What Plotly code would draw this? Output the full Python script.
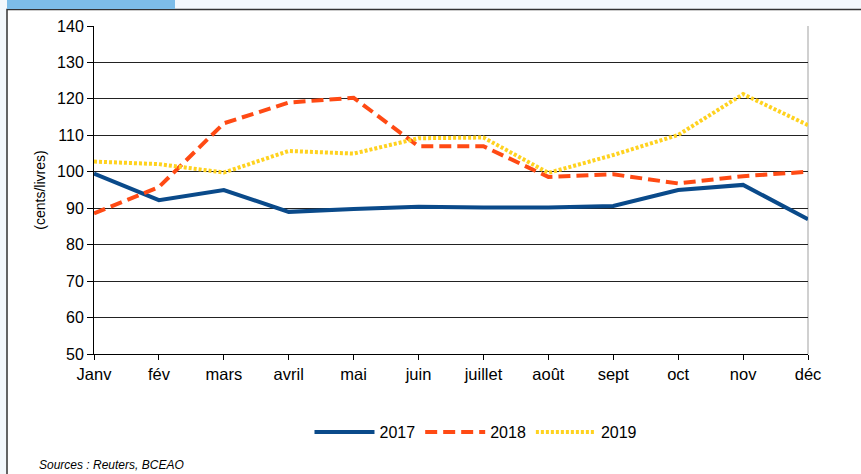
import plotly.graph_objects as go

months = ["Janv", "fév", "mars", "avril", "mai", "juin", "juillet", "août", "sept", "oct", "nov", "déc"]
y2017 = [99.5, 92.2, 95.0, 89.0, 89.8, 90.4, 90.2, 90.2, 90.6, 95.0, 96.4, 87.0]
y2018 = [88.6, 95.8, 113.3, 119.0, 120.3, 107.0, 107.0, 98.6, 99.3, 96.8, 98.8, 100.0]
y2019 = [102.8, 102.1, 99.8, 105.7, 105.0, 109.2, 109.4, 99.7, 104.6, 110.1, 121.3, 112.8]
yticks = [50, 60, 70, 80, 90, 100, 110, 120, 130, 140]

xs = list(range(len(months)))
fig = go.Figure()
fig.add_trace(go.Scatter(x=xs, y=y2017, name="2017", mode="lines",
                         line=dict(color="#0a4a8a", width=4, dash="solid")))
fig.add_trace(go.Scatter(x=xs, y=y2018, name="2018", mode="lines",
                         line=dict(color="#ff4a14", width=4, dash="12px,6px")))
fig.add_trace(go.Scatter(x=xs, y=y2019, name="2019", mode="lines",
                         line=dict(color="#ffd21f", width=4, dash="3px,2px")))

W, H = 861, 474
L, R, T, B = 94, 53, 26, 120
pw, ph = W - L - R, H - T - B

def px(x):
    return (x - L) / pw

def py(y):
    return (H - B - y) / ph

fig.update_layout(
    width=W, height=H,
    margin=dict(l=L, r=R, t=T, b=B),
    paper_bgcolor="#f3f8fc",
    plot_bgcolor="white",
    font=dict(family="Liberation Sans, Arial, sans-serif", size=16, color="black"),
    showlegend=True,
    legend=dict(orientation="h", x=0.535, xanchor="center", y=py(432), yanchor="middle",
                bgcolor="rgba(0,0,0,0)", font=dict(size=16), itemwidth=60,
                tracegroupgap=0),
    shapes=[
        dict(type="rect", xref="paper", yref="paper", layer="below",
             x0=px(7), x1=px(880), y0=py(490), y1=py(9.5),
             fillcolor="white", line=dict(color="#333333", width=1.5)),
        dict(type="rect", xref="paper", yref="paper", layer="below",
             x0=px(7), x1=px(175), y0=py(9), y1=py(-5),
             fillcolor="#7dbde8", line=dict(width=0)),
        dict(type="line", xref="paper", yref="paper", layer="below",
             x0=1, x1=1, y0=0, y1=1, line=dict(color="#d0d0d0", width=2)),
    ],
    annotations=[
        dict(text="<i>Sources : Reuters, BCEAO</i>", xref="paper", yref="paper",
             x=px(37), y=py(465), xanchor="left", yanchor="middle",
             showarrow=False, font=dict(size=12)),
    ],
)
fig.update_xaxes(range=[0, 11], tickvals=xs, ticktext=months, showgrid=False,
                 showline=True, linecolor="black", linewidth=1,
                 ticks="outside", ticklen=5, tickcolor="black", zeroline=False,
                 tickfont=dict(size=16.5))
fig.update_yaxes(range=[50, 140], tickvals=yticks, showgrid=True, gridcolor="#222222",
                 gridwidth=1, showline=True, linecolor="black", linewidth=1,
                 ticks="outside", ticklen=6, tickcolor="black", zeroline=False,
                 tickfont=dict(size=16),
                 title=dict(text="(cents/livres)", font=dict(size=14), standoff=8))

fig.write_html("out.html",
               config={"displayModeBar": False},
               post_script="document.body.style.margin='0';"
                           "document.body.style.background='#f3f8fc';")
